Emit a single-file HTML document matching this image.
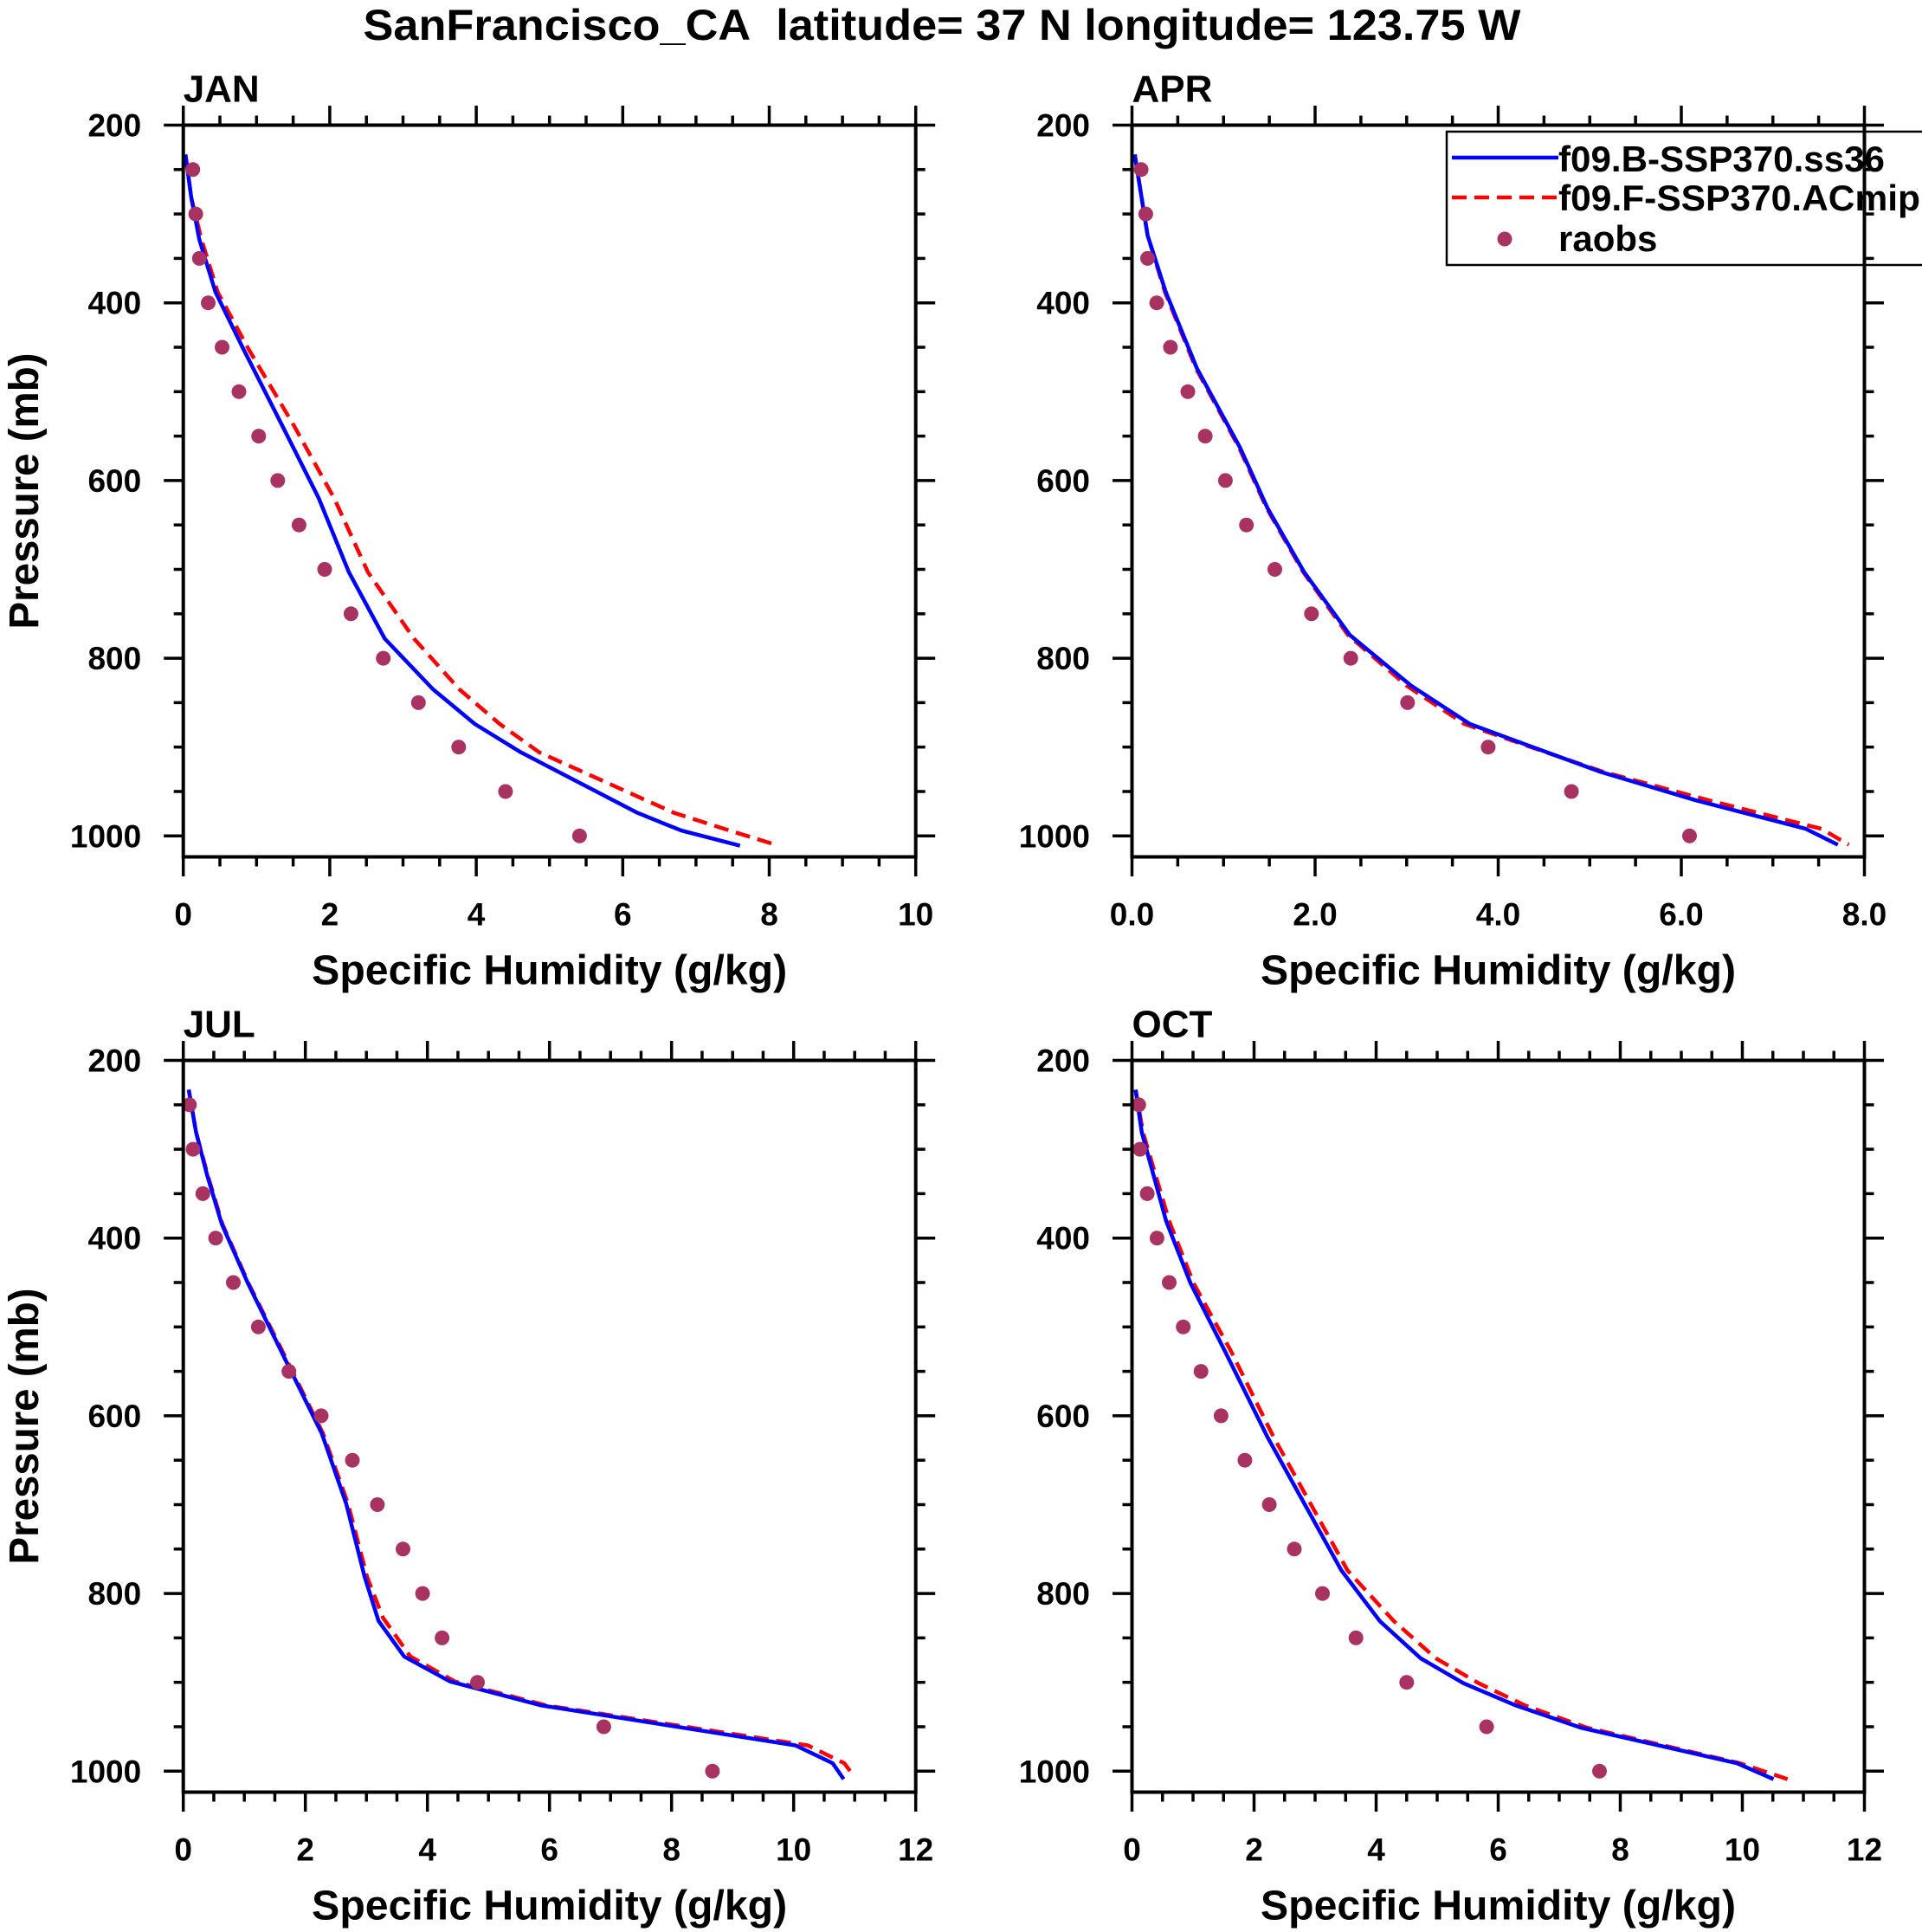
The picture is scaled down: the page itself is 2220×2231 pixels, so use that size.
<!DOCTYPE html>
<html><head><meta charset="utf-8"><style>
html,body{margin:0;padding:0;background:#fff}
svg{display:block}
text{font-family:"Liberation Sans",sans-serif;font-weight:bold;fill:#000}
</style></head><body>
<svg id="fig" width="2220" height="2231" viewBox="0 0 2220 2231" xmlns="http://www.w3.org/2000/svg">
<text x="1088" y="46" font-size="50" text-anchor="middle" textLength="1337" lengthAdjust="spacingAndGlyphs">SanFrancisco_CA&#160; latitude= 37 N longitude= 123.75 W</text>
</svg>
<script>
// ---- data: JAN ----
const janBlueP = [233,282,329,388,452,538,620,703,778,835,874,906,974,994,1011];
const janBlueQ = [0.03,0.11,0.22,0.44,0.82,1.35,1.85,2.26,2.75,3.41,3.98,4.61,6.20,6.80,7.60];
const janRedP  = [233,282,329,388,452,538,620,703,778,835,874,906,974,994,1011];
const janRedQ  = [0.03,0.11,0.25,0.47,0.89,1.51,2.06,2.52,3.15,3.77,4.32,4.86,6.70,7.46,8.13];
// ---- data: APR ----
const aprBlueP = [233,324,388,474,563,631,703,774,831,874,899,928,960,992,1010];
const aprBlueQ = [0.03,0.17,0.37,0.71,1.18,1.48,1.88,2.38,3.05,3.69,4.35,5.12,6.16,7.36,7.71];
const aprRedP  = [233,324,388,474,563,631,703,774,831,874,899,928,960,992,1010];
const aprRedQ  = [0.03,0.17,0.36,0.70,1.17,1.47,1.87,2.36,3.00,3.63,4.33,5.15,6.30,7.53,7.83];
// ---- data: JUL ----
const julBlueP = [233,281,329,384,451,535,620,699,781,831,871,899,926,971,991,1009];
const julBlueQ = [0.09,0.21,0.39,0.63,1.06,1.66,2.27,2.67,2.97,3.20,3.62,4.37,5.87,10.03,10.64,10.82];
const julRedP  = [233,281,329,384,451,535,620,699,781,827,871,899,926,971,991,1006];
const julRedQ  = [0.09,0.21,0.40,0.64,1.07,1.68,2.29,2.70,3.01,3.27,3.72,4.45,5.95,10.23,10.83,10.99];
// ---- data: OCT ----
const octBlueP = [233,281,381,451,527,624,774,831,873,901,926,951,991,1009];
const octBlueQ = [0.06,0.16,0.56,0.96,1.52,2.22,3.43,4.06,4.73,5.43,6.29,7.35,9.91,10.51];
const octRedP  = [233,281,381,451,527,624,774,831,873,901,926,951,991,1009];
const octRedQ  = [0.06,0.18,0.61,1.01,1.62,2.32,3.53,4.29,4.98,5.68,6.44,7.45,9.96,10.74];
// ---- raobs ----
const obsP = [250,300,350,400,450,500,550,600,650,700,750,800,850,900,950,1000];
const janObs = [0.13,0.17,0.22,0.34,0.53,0.76,1.03,1.29,1.58,1.93,2.29,2.73,3.21,3.76,4.40,5.41];
const aprObs = [0.10,0.15,0.17,0.27,0.42,0.61,0.80,1.02,1.25,1.56,1.96,2.39,3.01,3.89,4.80,6.09];
const julObs = [0.10,0.16,0.32,0.53,0.82,1.23,1.73,2.26,2.77,3.18,3.60,3.92,4.24,4.82,6.89,8.67];
const octObs = [0.11,0.13,0.25,0.41,0.61,0.84,1.13,1.46,1.85,2.25,2.66,3.12,3.67,4.50,5.81,7.66];
// ---- ticks ----
const pTicks = [200,400,600,800,1000];
const janXTicks = ["0","2","4","6","8","10"];
const aprXTicks = ["0.0","2.0","4.0","6.0","8.0"];
const julXTicks = ["0","2","4","6","8","10","12"];
const octXTicks = ["0","2","4","6","8","10","12"];

const NS = "http://www.w3.org/2000/svg";
const svg = document.getElementById('fig');
function mk(tag, attrs, parent){
  const e = document.createElementNS(NS, tag);
  for (const k in attrs) e.setAttribute(k, attrs[k]);
  (parent||svg).appendChild(e);
  return e;
}
const PMIN=200, PMAX=1023.6;
const panels = [
  {id:'jan', label:'JAN', x0:211.7, y0:144.5, xmax:10, ticks:janXTicks, bp:janBlueP,bq:janBlueQ,rp:janRedP,rq:janRedQ,obs:janObs, ylab:true},
  {id:'apr', label:'APR', x0:1307.5, y0:144.5, xmax:8, ticks:aprXTicks, bp:aprBlueP,bq:aprBlueQ,rp:aprRedP,rq:aprRedQ,obs:aprObs, ylab:false},
  {id:'jul', label:'JUL', x0:211.7, y0:1224.5, xmax:12, ticks:julXTicks, bp:julBlueP,bq:julBlueQ,rp:julRedP,rq:julRedQ,obs:julObs, ylab:true},
  {id:'oct', label:'OCT', x0:1307.5, y0:1224.5, xmax:12, ticks:octXTicks, bp:octBlueP,bq:octBlueQ,rp:octRedP,rq:octRedQ,obs:octObs, ylab:false}
];
const W=846, H=845;
panels.forEach(pn=>{
  const g = mk('g',{});
  
  
  const xs = v => pn.x0 + v/pn.xmax*W;
  const ys = p => pn.y0 + (p-PMIN)/(PMAX-PMIN)*H;
  const clipId = 'clip-'+pn.id;
  const cp = mk('clipPath',{id:clipId}, g);
  mk('rect',{x:pn.x0,y:pn.y0,width:W,height:H},cp);
  const mkLine=(P,Q,color,dash,name)=>{
    const pl = mk('polyline',{points:P.map((p,i)=>xs(Q[i]).toFixed(1)+','+ys(p).toFixed(1)).join(' '),fill:'none',stroke:color,'stroke-width':4.5,'stroke-linejoin':'round','clip-path':'url(#'+clipId+')'}, g);
    if(dash) pl.setAttribute('stroke-dasharray', dash);
    
    
  };
  mkLine(pn.rp,pn.rq,'#ff0000','17 9',pn.id+'-acmip-line');
  mkLine(pn.bp,pn.bq,'#0000ff',null,pn.id+'-ss36-line');
  obsP.forEach((p,i)=>{
    const c = mk('circle',{cx:xs(pn.obs[i]).toFixed(1),cy:ys(p).toFixed(1),r:8.5,fill:'#a83262'}, g);
    
    
  });
  const fr = mk('rect',{x:pn.x0,y:pn.y0,width:W,height:H,fill:'none',stroke:'#000','stroke-width':4}, g);
  
  
  for(let v=0; v<=pn.xmax+1e-9; v+=0.5){
    const maj = Math.abs(v/2-Math.round(v/2))<1e-9;
    const L = maj?22.5:11;
    const x = xs(v);
    mk('line',{x1:x,x2:x,y1:pn.y0,y2:pn.y0-L,stroke:'#000','stroke-width':3.5},g);
    mk('line',{x1:x,x2:x,y1:pn.y0+H,y2:pn.y0+H+L,stroke:'#000','stroke-width':3.5},g);
  }
  pn.ticks.forEach((t,i)=>{
    const tx = mk('text',{x:xs(i*2),y:pn.y0+924,'font-size':37,'text-anchor':'middle'},g);
    tx.textContent=t;
    
    
  });
  for(let p=200; p<=1000; p+=50){
    const maj = p%200===0;
    const L = maj?22.5:11;
    const y = ys(p);
    mk('line',{x1:pn.x0,x2:pn.x0-L,y1:y,y2:y,stroke:'#000','stroke-width':3.5},g);
    mk('line',{x1:pn.x0+W,x2:pn.x0+W+L,y1:y,y2:y,stroke:'#000','stroke-width':3.5},g);
  }
  pTicks.forEach(p=>{
    const tx = mk('text',{x:pn.x0-48.5,y:ys(p)+13,'font-size':37,'text-anchor':'end'},g);
    tx.textContent=String(p);
    
    
  });
  const lb = mk('text',{x:pn.x0,y:pn.y0-27,'font-size':44},g);
  lb.textContent=pn.label;
  
  
  const xt = mk('text',{x:pn.x0+W/2,y:pn.y0+992,'font-size':48,'text-anchor':'middle',textLength:549,lengthAdjust:'spacingAndGlyphs'},g);
  xt.textContent='Specific Humidity (g/kg)';
  
  
  if(pn.ylab){
    const cy = pn.y0+H/2;
    const yt = mk('text',{x:0,y:0,'font-size':48,'text-anchor':'middle',textLength:319,lengthAdjust:'spacingAndGlyphs',transform:'translate(44,'+cy+') rotate(-90)'},g);
    yt.textContent='Pressure (mb)';
    
    
  }
});
// legend
const lg = mk('g',{});


mk('rect',{x:1671,y:152,width:600,height:154,fill:'none',stroke:'#000','stroke-width':2.5},lg);
const l1 = mk('line',{x1:1677,x2:1800,y1:182,y2:182,stroke:'#0000ff','stroke-width':4.5},lg);


const l2 = mk('line',{x1:1677,x2:1800,y1:228,y2:228,stroke:'#ff0000','stroke-width':4.5,'stroke-dasharray':'17 9'},lg);


const l3 = mk('circle',{cx:1738,cy:276,r:8.5,fill:'#a83262'},lg);


[['f09.B-SSP370.ss36',198,377],['f09.F-SSP370.ACmip',243,418],['raobs',290,0]].forEach(d=>{
  const t = mk('text',{x:1800,y:d[1],'font-size':42},lg);
  if(d[2]){ t.setAttribute('textLength', d[2]); t.setAttribute('lengthAdjust','spacingAndGlyphs'); }
  t.textContent=d[0];
  
  
});
</script>
</body></html>
